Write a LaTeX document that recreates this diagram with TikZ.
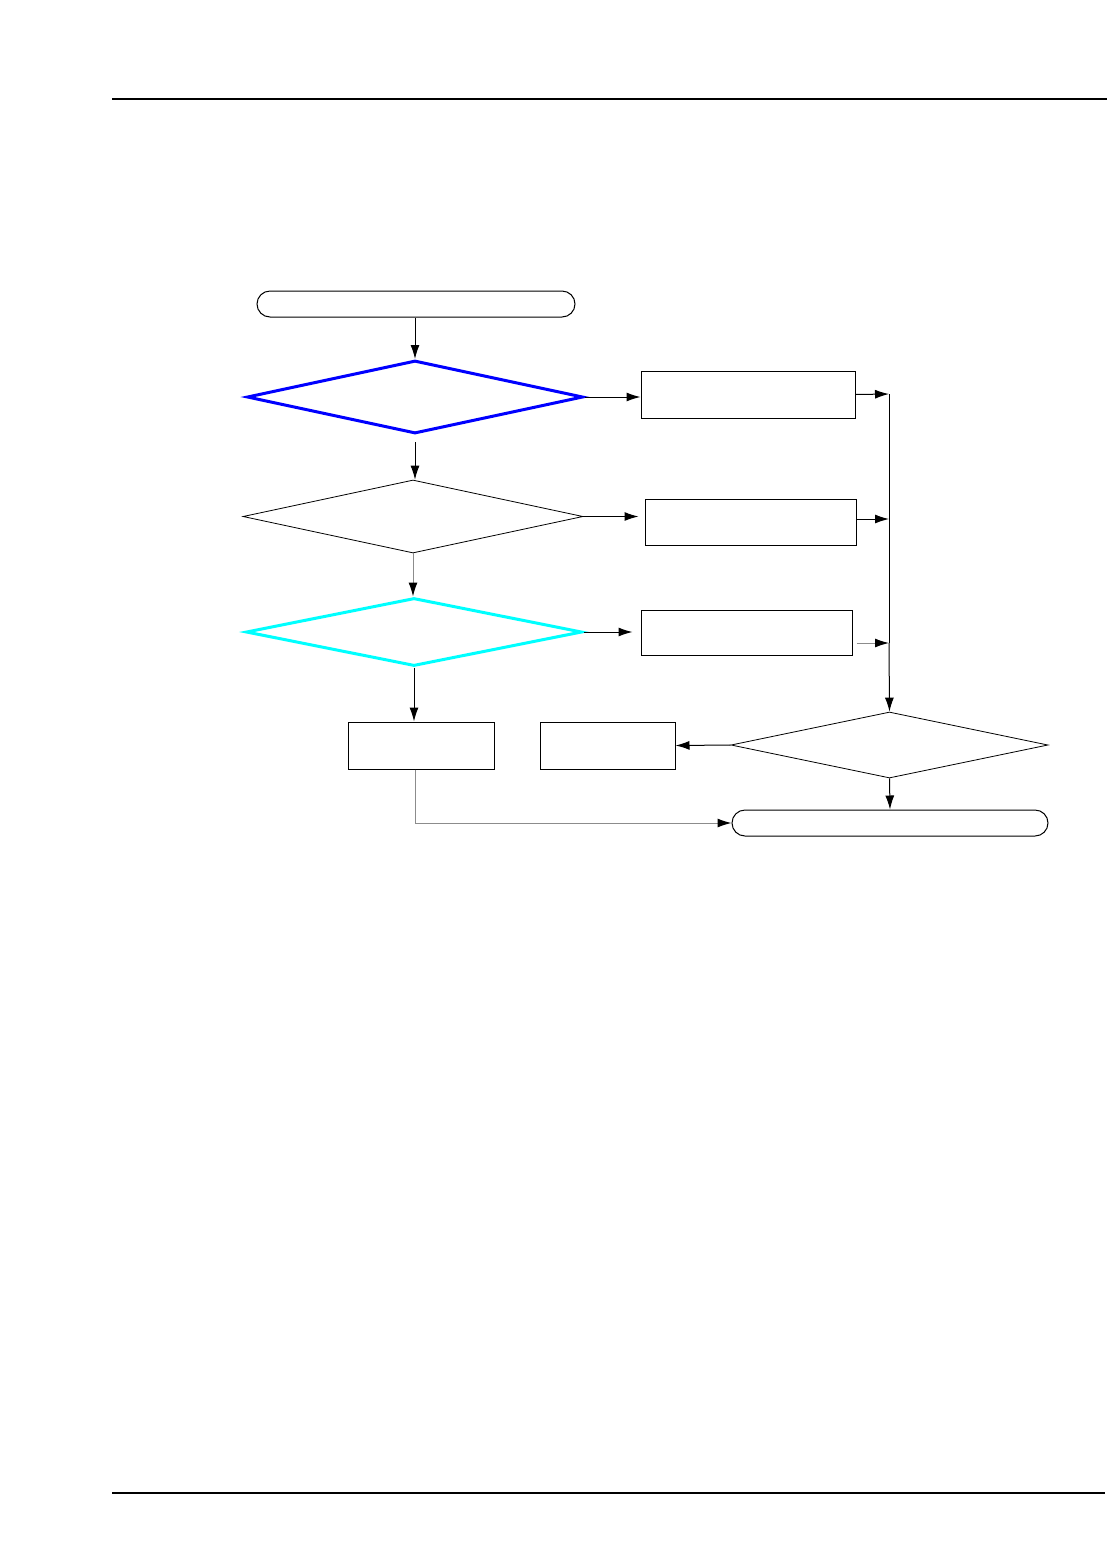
\documentclass[tikz,border=0pt]{standalone}
\usepackage{xcolor}
\usepackage{tikz}
\usetikzlibrary{positioning,shapes.geometric,shapes.misc,arrows.meta}
\definecolor{flowblue}{HTML}{0000FF}
\definecolor{flowcyan}{HTML}{00FFFF}
\definecolor{linegray}{HTML}{8C8C8C}

\begin{document}
\begin{tikzpicture}[x=0.5pt, y=-0.5pt,
  term/.style={draw, rounded rectangle, inner sep=0pt, line width=0.5pt,
               minimum width=159pt, minimum height=13pt},
  proc/.style={draw, rectangle, inner sep=0pt, line width=0.5pt},
  dec/.style={draw, diamond, inner sep=0pt, line width=0.4pt,
              minimum width=170pt, minimum height=37pt},
  arrow/.style={-{Latex[length=7pt,width=4.5pt]}, line width=0.5pt},
  garrow/.style={-{Latex[length=7pt,width=4.5pt,black]}, line width=0.5pt, draw=linegray}
]
\useasboundingbox (0,0) rectangle (1107,1554);

% page rules
\draw[line width=0.6pt] (112,99) -- (1107,99);
\draw[line width=0.6pt] (112,1493) -- (1105,1493);

\node[term] (start) at (416,304) {};
\node[dec, draw=flowblue, line width=1.5pt, minimum width=168pt, minimum height=36.5pt] (qa) at (415,397) {};
\node[dec, minimum height=36.5pt] (qb) at (413,516.5) {};
\node[dec, draw=flowcyan, line width=1.5pt, minimum width=168pt, minimum height=34pt] (qc) at (414,632) {};

\node[proc, minimum width=107pt, minimum height=23.5pt] (pa) at (748,394.5) {};
\node[proc, minimum width=105.5pt, minimum height=23pt] (pb) at (750.5,522) {};
\node[proc, minimum width=105.5pt, minimum height=22.5pt] (pc) at (746.5,632.5) {};

\node[dec, minimum width=158.5pt, minimum height=33pt] (qd) at (889.5,745) {};
\node[proc, minimum width=73pt, minimum height=23.5pt] (pd) at (421,745.5) {};
\node[proc, minimum width=67.5pt, minimum height=23.5pt] (pe) at (607.5,745.5) {};
\node[term, minimum width=158pt] (stop) at (890,823) {};

\coordinate (busa) at (889,394);
\coordinate (busb) at (889,519);
\coordinate (busc) at (889,643);

\draw[arrow] (start.south -| qa.north) -- (qa.north);
\draw[arrow] ([yshift=-3.5pt]qa.south) -- (qa.south |- qb.north);
\draw[garrow] (qb.south) -- (qb.south |- qc.north);
\draw[arrow] (qc.south) -- (qc.south |- pd.north);

\draw[arrow] (qa.east) -- (qa.east -| pa.west);
\draw[arrow] (qb.east) -- ([xshift=-3pt]qb.east -| pb.west);
\draw[arrow] (qc.east) -- ([xshift=-4pt]qc.east -| pc.west);

\draw[arrow] (pa.east) -- (busa);
\draw[arrow] (pb.east |- busb) -- (busb);
\draw[garrow, shorten <=2pt] (pc.east |- busc) -- (busc);
\draw[line width=0.5pt] (busa) -- (busc);
\draw[arrow] (busc) -- (qd.north);

\draw[arrow] (qd.west) -- (pe.east);
\draw[arrow] (qd.south) -- (stop.north);
\draw[garrow] ([xshift=-3pt]pd.south) |- (stop.west);

\end{tikzpicture}
\end{document}
